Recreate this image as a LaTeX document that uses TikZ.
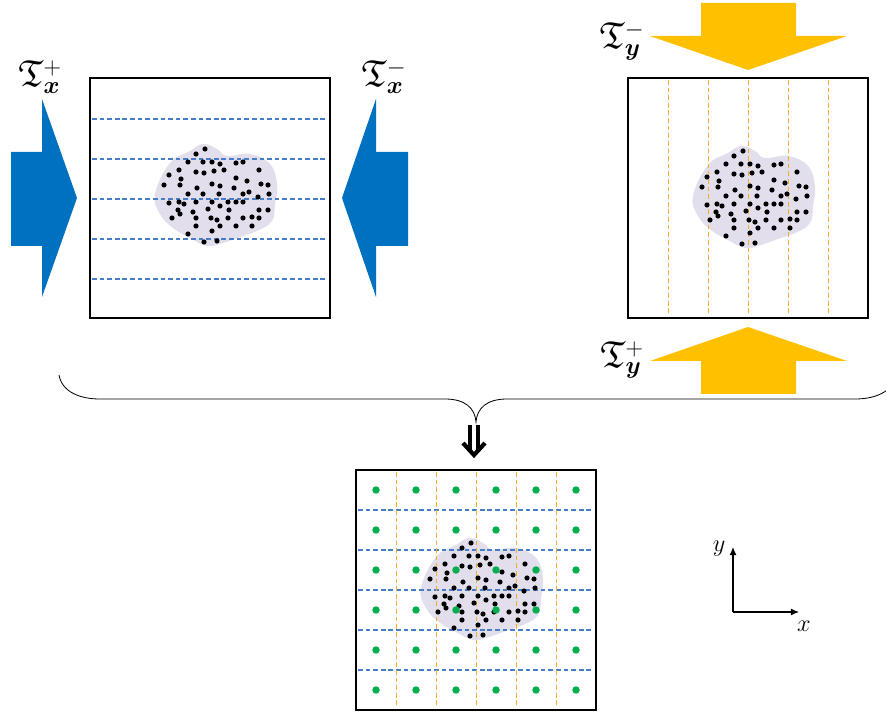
\documentclass[tikz,border=0pt]{standalone}
\usepackage{amsmath,amssymb}
\usetikzlibrary{arrows.meta,positioning}
\definecolor{ofblue}{RGB}{0,112,192}
\definecolor{ofgold}{RGB}{255,192,0}
\definecolor{gridblue}{RGB}{70,125,200}
\definecolor{gridgold}{RGB}{238,176,40}
\definecolor{ptgreen}{RGB}{0,176,80}
\definecolor{cloud}{RGB}{226,222,236}
\tikzset{
  frame/.style={draw=black,line width=1.8pt,minimum size=7.2cm,inner sep=0pt},
  hgrid/.style={gridblue,line width=0.9pt,dash pattern=on 4pt off 2.5pt},
  vgrid/.style={gridgold,line width=0.8pt,dash pattern=on 4pt off 2.5pt},
  fraklabel/.style={font=\fontsize{32}{36}\selectfont,inner sep=0pt},
  axlabel/.style={font=\fontsize{20}{24}\selectfont,inner sep=0pt},
  pics/blob/.style={code={
    \fill[cloud] plot[smooth cycle,tension=0.7] coordinates {(-62,-2) (-47,-33) (-27,-45) (-14,-52) (0,-47) (10,-40) (33,-42) (53,-32) (60,-12) (58,8) (55,25) (40,35) (20,42) (6,47) (-10,50) (-27,42) (-44,32) (-57,18)};
  }},
  pics/specks/.style={code={
    \foreach \a/\b in {-12/-47,-21/-42,-29/-34,-14/-34,-5/-34,3/-32,19/-33,26/-34,
      -38/-26,-21/-24,-13/-23,-3/-25,7/-26,42/-26,-48/-21,-36/-17,19/-18,30/-15,
      -53/-11,-37/-11,-5/-12,3/-10,44/-12,51/-11,-20/-8,17/-8,-29/-2,-14/-2,2/-2,
      26/-2,32/-4,52/-2,41/1,-48/7,-38/6,-33/8,-21/6,-5/6,3/10,11/6,19/6,26/6,
      -39/14,-24/16,-9/13,12/14,42/14,51/14,-45/22,-37/18,-21/22,-6/22,0/24,11/22,
      26/22,35/21,42/22,-21/30,3/30,19/30,35/30,-29/38,-5/35,-13/46,0/45}
      \fill (\a,\b) circle (2.2pt);
  }}
}

\begin{document}
\begin{tikzpicture}[x=0.03cm,y=-0.03cm]
        \useasboundingbox (0,0) rectangle (886,712);
        \fill[ofblue] (11,152) -- (42,152) -- (42,99) -- (77,198) -- (42,297) -- (42,246) -- (11,246) -- cycle;
        \fill[ofblue] (408,152) -- (376,152) -- (376,99) -- (342,198) -- (376,297) -- (376,246) -- (408,246) -- cycle;
        \fill[ofgold] (701,3) -- (796,3) -- (796,36) -- (847,36) -- (748,70) -- (650,36) -- (701,36) -- cycle;
        \fill[ofgold] (701,394) -- (796,394) -- (796,361) -- (847,361) -- (748,327) -- (650,361) -- (701,361) -- cycle;
        \node[fraklabel] (txp) at (40,77) {$\mathfrak{T}^{+}_{\boldsymbol{x}}$};
        \node[fraklabel] (txm) at (384,77) {$\mathfrak{T}^{-}_{\boldsymbol{x}}$};
        \node[fraklabel] (tym) at (622,41) {$\mathfrak{T}^{-}_{\boldsymbol{y}}$};
        \node[fraklabel] (typ) at (622,360) {$\mathfrak{T}^{+}_{\boldsymbol{y}}$};
        \pic at (217,196) {blob};
        \pic at (755,198) {blob};
        \pic at (483,590) {blob};
        \foreach \yy in {119,159,199,239,279}
          \draw[hgrid] (92,\yy) -- (328,\yy);
        \foreach \xx in {668,708,748,788,828}
          \draw[vgrid] (\xx,80) -- (\xx,316);
        \foreach \yy in {510,550,590,630,670}
          \draw[hgrid] (358,\yy) -- (594,\yy);
        \foreach \xx in {396,436,476,516,556}
          \draw[vgrid] (\xx,472) -- (\xx,708);
        \pic at (217,196) {specks};
        \pic at (755,198) {specks};
        \pic at (483,590) {specks};
        \foreach \i in {0,...,5}
          \foreach \j in {0,...,5}
            \fill[ptgreen] (376+40*\i,490+40*\j) circle (3.2pt);
        \node[frame] (boxx) at (210,198) {};
        \node[frame] (boxy) at (748,198) {};
        \node[frame] (boxgrid) at (476,590) {};
        \coordinate (join) at (476,422);
        \draw[line width=0.7pt] (59,375) .. controls (62,392) and (80,399) .. (100,399) -- (445,399)
          .. controls (465,399) and (475,408) .. (join)
          .. controls (477,408) and (487,399) .. (507,399) -- (855,399)
          .. controls (875,399) and (893,392) .. (896,375);
        \coordinate (dstart) at (474,425);
        \coordinate (dend) at (474,452);
        \coordinate (dtip) at (474,455);
        \draw[double,double distance=3.2pt,line width=3.6pt] (dstart) -- (dend);
        \draw[line width=3.6pt,miter limit=4] (dtip) ++(-11,-12) -- (dtip) -- ++(11,-12);
        \coordinate (orig) at (733,612);
        \coordinate (ytip) at (733,547);
        \coordinate (xtip) at (799,612);
        \draw[line width=0.9pt,-{Latex[length=7pt,width=6pt]}] (orig) -- (ytip);
        \draw[line width=0.9pt,-{Latex[length=7pt,width=6pt]}] (orig) -- (xtip);
        \node[axlabel] (ylab) at (719,549) {$y$};
        \node[axlabel] (xlab) at (804,626) {$x$};
      \end{tikzpicture}
\end{document}
